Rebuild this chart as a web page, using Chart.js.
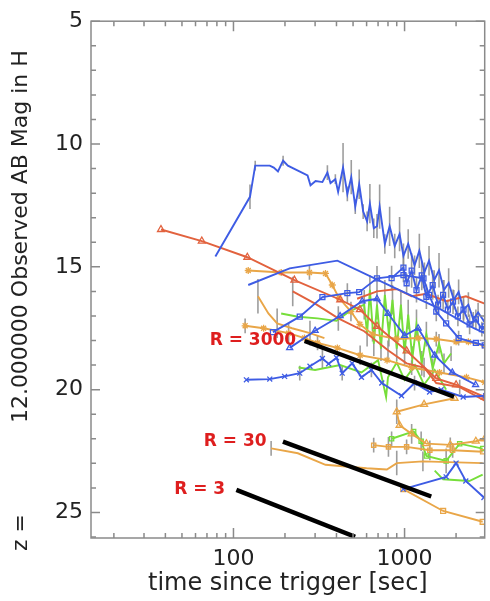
<!DOCTYPE html>
<html>
<head>
<meta charset="utf-8">
<title>GRB light curves</title>
<script src="https://cdn.jsdelivr.net/npm/chart.js@4.4.0/dist/chart.umd.min.js"></script>
<style>
    html, body { margin: 0; padding: 0; background: #fff; }
    #wrap { width: 490px; height: 601px; position: relative; }
</style>
</head>
<body>
<div id="wrap"><canvas id="lc"></canvas></div>
<script>
/**************************************************  刻度 *****************************************************/
var xTicks = [20, 30, 40, 50, 60, 70, 80, 90, 100, 200, 300, 400, 500, 600, 700, 800, 900, 1000, 2000];
var xLabels = [100, 1000];
var yTicks = [5, 6, 7, 8, 9, 10, 11, 12, 13, 14, 15, 16, 17, 18, 19, 20, 21, 22, 23, 24, 25, 26];
var yLabels = [5, 10, 15, 20, 25];

/**************************************************  数据 (时间 秒 / 星等) *****************************************************/
// 最亮的蓝色光变曲线
var grbA_t = [78.4, 124.9, 134, 143, 163, 172, 182, 195, 208, 238, 271, 282, 302, 331, 354, 369, 394, 409, 437, 463, 488, 515, 543, 573, 604, 627, 661, 690, 715, 767, 818, 876, 935, 985, 1050, 1144, 1220, 1306, 1390, 1490, 1590, 1700, 1810, 1940, 2070, 2210, 2360, 2520, 2690, 2940];
var grbA_mag = [14.58, 12.15, 10.88, 10.88, 10.88, 10.96, 11.12, 10.68, 10.88, 11.08, 11.28, 11.68, 11.51, 11.55, 11.16, 11.59, 11.43, 11.95, 10.96, 12.03, 11.35, 12.55, 11.64, 12.75, 13.15, 12.43, 13.43, 13.35, 12.55, 14.07, 13.35, 14.15, 13.67, 14.55, 14.07, 14.94, 14.35, 15.22, 14.75, 15.54, 15.14, 15.94, 15.66, 16.34, 16.02, 16.74, 16.54, 17.14, 16.86, 17.26];
var grbA_err = [0, 0.5, 0.2, 0, 0, 0, 0, 0.2, 0, 0, 0, 0, 0, 0, 0.3, 0, 0.2, 0, 1.0, 0.3, 0.7, 0.3, 0.6, 0.3, 0.4, 0.8, 0.4, 0.5, 0.9, 0.4, 0.8, 0.5, 0.7, 0.5, 0.6, 0.4, 0.7, 0.4, 0.6, 0.4, 0.7, 0.4, 0.6, 0.4, 0.5, 0.4, 0.5, 0.3, 0.4, 0.3];
var grbA2_t = [840, 985, 1028, 1100, 1174, 1260, 1341, 1460, 1570, 1680, 1790, 1920, 2050, 2210, 2400, 2610, 2830, 2940];
var grbA2_mag = [15.46, 15.03, 15.67, 15.15, 15.95, 15.35, 16.22, 15.74, 16.54, 16.14, 16.74, 16.42, 17.02, 16.74, 17.34, 17.14, 17.54, 17.42];
var grbA2_err = [0.5, 0.6, 0.4, 0.7, 0.5, 0.6, 0.5, 0.6, 0.4, 0.6, 0.4, 0.5, 0.4, 0.5, 0.4, 0.4, 0.3, 0.3];

// 红色（三角）
var grbB_t = [37.7, 65.3, 120.5, 227, 421, 548, 690, 1028, 1532, 2000, 2940];
var grbB_mag = [13.48, 13.95, 14.61, 15.54, 16.34, 16.74, 17.42, 18.42, 19.54, 19.8, 20.3];
var grbC_t = [222, 300, 410, 581, 800, 1028, 1300, 1532, 2100, 2940];
var grbC_mag = [16.0, 16.5, 17.1, 17.62, 18.4, 18.93, 19.1, 19.73, 19.9, 20.45];
var grbC_err = [0.6, 0, 0.5, 0, 0.4, 0, 0.4, 0, 0.3, 0];
var grbD_t = [528, 690, 900, 1100, 1341, 1750, 2284, 2940];
var grbD_mag = [16.3, 16.0, 15.9, 16.2, 16.1, 16.4, 16.2, 16.5];

// 橙色
var grbE_t = [122, 190, 278, 345, 378, 413, 486, 548, 650, 900, 1200, 1532, 2000, 2360, 2940];
var grbE_mag = [15.15, 15.23, 15.23, 15.27, 15.74, 16.26, 16.82, 17.34, 17.74, 17.94, 17.9, 17.94, 18.05, 18.05, 18.22];
var grbE_err = [0, 0, 0.3, 0, 0, 0, 0.4, 0, 0.3, 0, 0, 0.3, 0, 0, 0];
var grbF_t = [117, 150, 210, 260, 310, 405, 550, 790, 1100, 1600, 2300, 2940];
var grbF_mag = [17.4, 17.5, 17.7, 17.9, 18.1, 18.3, 18.6, 18.8, 19.1, 19.3, 19.5, 19.7];
var grbF_err = [0.3, 0, 0.4, 0, 0.3, 0, 0.4, 0, 0.3, 0, 0, 0];
var grbG_t = [139, 160, 180, 220, 280, 340];
var grbG_mag = [16.2, 16.9, 17.3, 17.5, 17.7, 17.9];
var grbG_err = [0.7, 0, 0.6, 0, 0.5, 0];
var grbN_t = [1960, 1300, 900, 935, 1100, 1341, 1850, 2610, 2940];
var grbN_mag = [20.35, 20.6, 20.9, 21.45, 21.8, 22.2, 22.25, 22.1, 22.0];
var grbN_err = [0, 0, 0.5, 0, 0.4, 0, 0.3, 0, 0];
var grbO_t = [660, 805, 1028, 1405, 1910, 2860];
var grbO_mag = [22.26, 22.33, 22.33, 22.47, 22.47, 22.53];
var grbO_err = [0.3, 0.4, 0.3, 0.4, 0.3, 0];
var grbQ_t = [166, 238, 345, 600, 788, 900, 1280, 2860];
var grbQ_mag = [22.39, 22.59, 23.06, 23.2, 23.25, 22.99, 22.92, 22.99];
var grbQ_err = [0.3, 0, 0, 0, 0, 0.5, 0.4, 0];
var grbS_t = [983, 1680, 2860];
var grbS_mag = [24.05, 24.94, 25.38];

// 绿色
var grbH_t = [190, 238, 310, 400, 480, 581, 604, 627, 661, 690, 728, 767, 810, 850, 900, 952, 1000, 1050, 1110, 1174, 1260, 1341, 1460, 1590, 1700, 1870];
var grbH_mag = [16.9, 17.03, 17.1, 17.2, 16.8, 16.54, 17.74, 15.94, 18.13, 16.54, 18.33, 16.14, 17.74, 16.34, 18.33, 16.54, 18.53, 16.94, 18.73, 17.34, 18.93, 17.74, 19.13, 18.13, 18.93, 18.53];
var grbH_err = [0, 0, 0, 0, 0, 0.6, 0.5, 0.6, 0.5, 0.6, 0.5, 0.6, 0.5, 0.6, 0.5, 0.6, 0.5, 0.6, 0.5, 0.6, 0.5, 0.5, 0.4, 0.4, 0.4, 0.3];
var grbI_t = [240, 300, 420, 560, 700, 780, 800, 900, 1000, 1150, 1300, 1500, 1750];
var grbI_mag = [19.1, 19.2, 19.0, 19.3, 18.8, 20.3, 19.5, 18.9, 19.6, 19.0, 19.8, 19.2, 20.0];
var grbP_t = [840, 1130, 1250, 1341, 1750, 2100, 2860];
var grbP_mag = [22.0, 21.7, 22.1, 22.7, 22.9, 22.2, 22.4];
var grbP_err = [0.3, 0, 0.4, 0, 0.5, 0, 0];
var grbP2_t = [1500, 1680, 2390, 2860];
var grbP2_mag = [23.3, 23.65, 23.72, 23.46];

// 其他蓝色
var grbJ_t = [119, 163, 199, 244, 280, 331, 360, 400, 432, 494, 560, 640, 736, 960, 1144, 1400, 1636, 2200, 2980];
var grbJ_mag = [19.6, 19.57, 19.46, 19.33, 19.05, 18.73, 18.95, 18.7, 19.33, 18.93, 19.5, 19.2, 19.73, 20.25, 19.73, 20.1, 20.0, 20.3, 20.25];
var grbJ_err = [0, 0, 0, 0.3, 0, 0.4, 0, 0, 0.3, 0, 0, 0.3, 0, 0, 0.3, 0, 0, 0, 0];
var grbK_t = [170, 244, 331, 463, 543, 690, 985, 1290, 1390, 1532, 1750, 2070, 2610, 2940];
var grbK_mag = [17.66, 17.03, 16.23, 16.07, 16.03, 15.47, 15.34, 15.47, 16.14, 16.82, 17.3, 17.9, 18.1, 18.2];
var grbK_err = [0, 0, 0, 0.4, 0, 0.5, 0, 0.4, 0, 0.4, 0, 0.3, 0, 0];
var grbL_t = [122, 213, 405, 900, 1600, 2540, 2940];
var grbL_mag = [15.74, 15.06, 14.75, 15.9, 16.7, 17.5, 17.7];
var grbM_t = [213, 300, 420, 565, 690, 800, 1000, 1200, 1500, 1900, 2600];
var grbM_mag = [18.3, 17.6, 17.0, 16.4, 16.3, 16.9, 17.8, 17.5, 18.6, 19.3, 19.8];
var grbR_t = [983, 1750, 2000, 2280, 2910];
var grbR_mag = [24.05, 23.55, 22.99, 23.72, 24.39];

// 幂律参考线 R = 3000 / 30 / 3
var r3000_t = [260.6, 1945];
var r3000_mag = [18.02, 20.29];
var r30_t = [194.6, 1432];
var r30_mag = [22.12, 24.35];
var r3_t = [104, 514];
var r3_mag = [24.08, 25.99];

/**************************************************  样式 *****************************************************/
var BLUE = 'rgb(62,92,228)';
var RED = 'rgb(226,98,62)';
var ORANGE = 'rgb(233,166,72)';
var GREEN = 'rgb(118,222,58)';
var GRAY = 'rgba(140,140,140,0.85)';
var FRAME = '#8a8a8a';
var TEXT = '#222';

// 生成一条折线
function curve(tArr, magArr, color, opts) {
    var ds = {
        data: tArr.map(function (t, i) { return {x: t, y: magArr[i]}; }),
        showLine: true,
        borderColor: color,
        borderWidth: 1.9,
        pointRadius: 0,
        pointStyle: 'circle',
        pointBorderColor: color,
        pointBackgroundColor: 'rgba(255,255,255,0)',
        pointBorderWidth: 1.3,
        clip: 0
    };
    for (var k in (opts || {})) ds[k] = opts[k];
    return ds;
}

// 黑线在最上层（index 0 最后绘制）
var datasets = [
    curve(r3000_t, r3000_mag, '#000', {borderWidth: 4.5}),
    curve(r30_t, r30_mag, '#000', {borderWidth: 4.5}),
    curve(r3_t, r3_mag, '#000', {borderWidth: 4.5}),
    curve(grbA_t, grbA_mag, BLUE),
    curve(grbA2_t, grbA2_mag, BLUE, {pointStyle: 'rect', pointRadius: 3.5}),
    curve(grbK_t, grbK_mag, BLUE, {pointStyle: 'rect', pointRadius: 3.5}),
    curve(grbL_t, grbL_mag, BLUE),
    curve(grbM_t, grbM_mag, BLUE, {pointStyle: 'triangle', pointRadius: 3.5}),
    curve(grbJ_t, grbJ_mag, BLUE, {pointStyle: 'crossRot', pointRadius: 3.5}),
    curve(grbR_t, grbR_mag, BLUE, {pointStyle: 'crossRot', pointRadius: 3.5}),
    curve(grbB_t, grbB_mag, RED, {pointStyle: 'triangle', pointRadius: 4}),
    curve(grbC_t, grbC_mag, RED),
    curve(grbD_t, grbD_mag, RED),
    curve(grbE_t, grbE_mag, ORANGE, {pointStyle: 'star', pointRadius: 3.5}),
    curve(grbF_t, grbF_mag, ORANGE, {pointStyle: 'star', pointRadius: 3.5}),
    curve(grbG_t, grbG_mag, ORANGE),
    curve(grbN_t, grbN_mag, ORANGE, {pointStyle: 'triangle', pointRadius: 4}),
    curve(grbO_t, grbO_mag, ORANGE, {pointStyle: 'rect', pointRadius: 3}),
    curve(grbQ_t, grbQ_mag, ORANGE),
    curve(grbS_t, grbS_mag, ORANGE, {pointStyle: 'rect', pointRadius: 3.5}),
    curve(grbH_t, grbH_mag, GREEN),
    curve(grbI_t, grbI_mag, GREEN),
    curve(grbP_t, grbP_mag, GREEN, {pointStyle: 'rect', pointRadius: 3}),
    curve(grbP2_t, grbP2_mag, GREEN)
];

// 误差棒（灰色竖线）
var errorSets = [
    [grbA_t, grbA_mag, grbA_err], [grbA2_t, grbA2_mag, grbA2_err], [grbC_t, grbC_mag, grbC_err],
    [grbE_t, grbE_mag, grbE_err], [grbF_t, grbF_mag, grbF_err], [grbG_t, grbG_mag, grbG_err],
    [grbN_t, grbN_mag, grbN_err], [grbO_t, grbO_mag, grbO_err], [grbQ_t, grbQ_mag, grbQ_err],
    [grbH_t, grbH_mag, grbH_err], [grbP_t, grbP_mag, grbP_err], [grbJ_t, grbJ_mag, grbJ_err],
    [grbK_t, grbK_mag, grbK_err]
];

// 红色标注，锚点为文字左端（数据坐标）
var notes = [
    {text: 'R = 3000', t: 72.6, mag: 18.0},
    {text: 'R = 30', t: 67.1, mag: 22.12},
    {text: 'R = 3', t: 45, mag: 24.06}
];

/**************************************************  边框 / 内向刻度 / 误差棒 *****************************************************/
var framePlugin = {
    id: 'frame',
    beforeDatasetsDraw: function (chart) {
        var ctx = chart.ctx, a = chart.chartArea, xs = chart.scales.x, ys = chart.scales.y;
        ctx.save();
        ctx.beginPath();
        ctx.rect(a.left, a.top, a.right - a.left, a.bottom - a.top);
        ctx.clip();
        ctx.strokeStyle = GRAY;
        ctx.lineWidth = 1.6;
        errorSets.forEach(function (s) {
            s[0].forEach(function (t, i) {
                var e = s[2][i];
                if (!e) return;
                var px = xs.getPixelForValue(t);
                ctx.beginPath();
                ctx.moveTo(px, ys.getPixelForValue(s[1][i] - e));
                ctx.lineTo(px, ys.getPixelForValue(s[1][i] + e));
                ctx.stroke();
            });
        });
        ctx.restore();
    },
    afterDatasetsDraw: function (chart) {
        var ctx = chart.ctx, a = chart.chartArea, xs = chart.scales.x, ys = chart.scales.y;
        ctx.save();
        ctx.strokeStyle = FRAME;
        ctx.lineWidth = 1.5;
        ctx.strokeRect(a.left, a.top, a.right - a.left, a.bottom - a.top);
        ctx.beginPath();
        xTicks.forEach(function (v) {
            var px = xs.getPixelForValue(v);
            var len = xLabels.indexOf(v) >= 0 ? 10 : 5;
            ctx.moveTo(px, a.bottom); ctx.lineTo(px, a.bottom - len);
            ctx.moveTo(px, a.top); ctx.lineTo(px, a.top + len);
        });
        yTicks.forEach(function (v) {
            var py = ys.getPixelForValue(v);
            var len = yLabels.indexOf(v) >= 0 ? 9 : 5;
            ctx.moveTo(a.left, py); ctx.lineTo(a.left + len, py);
            ctx.moveTo(a.right, py); ctx.lineTo(a.right - len, py);
        });
        ctx.stroke();
        // R 标注
        ctx.fillStyle = 'rgb(222,30,30)';
        ctx.font = 'bold 17px "DejaVu Sans"';
        ctx.textAlign = 'left';
        ctx.textBaseline = 'middle';
        notes.forEach(function (n) {
            ctx.fillText(n.text, xs.getPixelForValue(n.t), ys.getPixelForValue(n.mag));
        });
        ctx.restore();
    }
};

/**************************************************  图表 *****************************************************/
var NB = '\u00a0';
var yTitle = 'z =' + NB.repeat(13) + '12.000000' + NB + 'Observed AB Mag in H' + NB.repeat(6);

var chart = new Chart(document.getElementById('lc'), {
    type: 'scatter',
    data: {datasets: datasets},
    options: {
        responsive: true,
        maintainAspectRatio: false,
        animation: false,
        events: [],
        layout: {padding: {top: 11, right: 1, left: 0, bottom: 0}},
        plugins: {legend: {display: false}, tooltip: {enabled: false}},
        scales: {
            x: {
                type: 'logarithmic',
                position: 'bottom',
                min: 14.7,
                max: 2940,
                grid: {display: false, drawTicks: false},
                border: {display: false},
                afterBuildTicks: function (s) { s.ticks = xTicks.map(function (v) { return {value: v}; }); },
                afterFit: function (s) { s.height = 63; },
                ticks: {
                    autoSkip: false, maxRotation: 0, padding: 8, color: TEXT,
                    font: {family: 'DejaVu Sans', size: 22},
                    callback: function (v) { return xLabels.indexOf(v) >= 0 ? String(v) : ''; }
                },
                title: {
                    display: true, text: 'time since trigger [sec]', color: TEXT,
                    font: {family: 'DejaVu Sans', size: 24}, padding: {top: 0, bottom: 3}
                }
            },
            y: {
                type: 'linear',
                position: 'left',
                reverse: true,
                min: 5,
                max: 26.04,
                grid: {display: false, drawTicks: false},
                border: {display: false},
                afterBuildTicks: function (s) { s.ticks = yTicks.map(function (v) { return {value: v}; }); },
                afterFit: function (s) { s.width = 91; },
                ticks: {
                    autoSkip: false, padding: 8, color: TEXT,
                    font: {family: 'DejaVu Sans', size: 22},
                    callback: function (v) { return yLabels.indexOf(v) >= 0 ? String(v) : ''; }
                },
                title: {
                    display: true, text: yTitle, color: TEXT,
                    font: {family: 'DejaVu Sans', size: 22}, padding: {top: 8, bottom: 0}
                }
            }
        }
    },
    plugins: [framePlugin]
});
</script>
</body>
</html>
